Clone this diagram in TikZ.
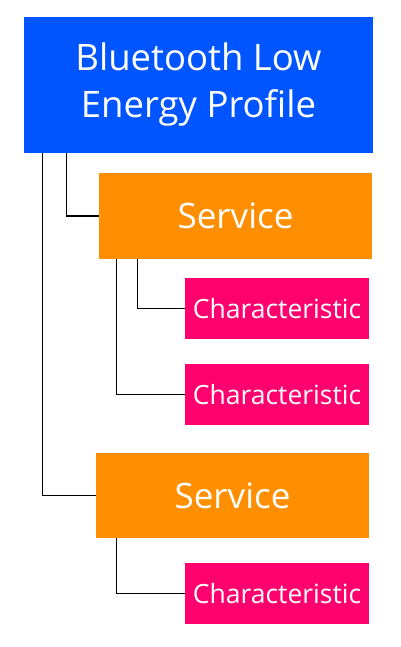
\documentclass[tikz,border=0pt]{standalone}
\usepackage{fontspec}
\setmainfont{Open Sans}
\definecolor{bleblue}{HTML}{0055FF}
\definecolor{sorange}{HTML}{FF8F00}
\definecolor{cpink}{HTML}{FF006E}
\begin{document}
\begin{tikzpicture}[x=1pt,y=-1pt,
  box/.style={draw=none,inner sep=0pt,text=white,align=center},
  profilebox/.style={box,fill=bleblue,minimum width=349pt,minimum height=136pt,font=\fontsize{36.5}{47}\selectfont},
  servicebox/.style={box,fill=sorange,minimum width=273pt,minimum height=85pt,font=\fontsize{35}{40}\selectfont},
  charbox/.style={box,fill=cpink,minimum width=184pt,minimum height=61pt,font=\fontsize{26.5}{30}\selectfont},
  link/.style={draw=black,line width=1.2pt}]
\useasboundingbox (0,0) rectangle (400,647);
\fill[white] (0,0) rectangle (400,647);
\node[profilebox] (root) at (198.5,85) {Bluetooth Low\\Energy Profile};
\node[servicebox] (s1) at (235.5,216) {Service};
\node[charbox] (c1) at (277,308.5) {Characteristic};
\node[charbox] (c2) at (277,394.5) {Characteristic};
\node[servicebox] (s2) at (232.5,495.5) {Service};
\node[charbox] (c3) at (277,593.5) {Characteristic};
\draw[link] ([xshift=43pt]root.south west) |- (s1.west);
\draw[link] ([xshift=19pt]root.south west) |- (s2.west);
\draw[link] ([xshift=38.7pt]s1.south west) |- (c1.west);
\draw[link] ([xshift=17.3pt]s1.south west) |- (c2.west);
\draw[link] ([xshift=20.3pt]s2.south west) |- (c3.west);
\end{tikzpicture}
\end{document}
